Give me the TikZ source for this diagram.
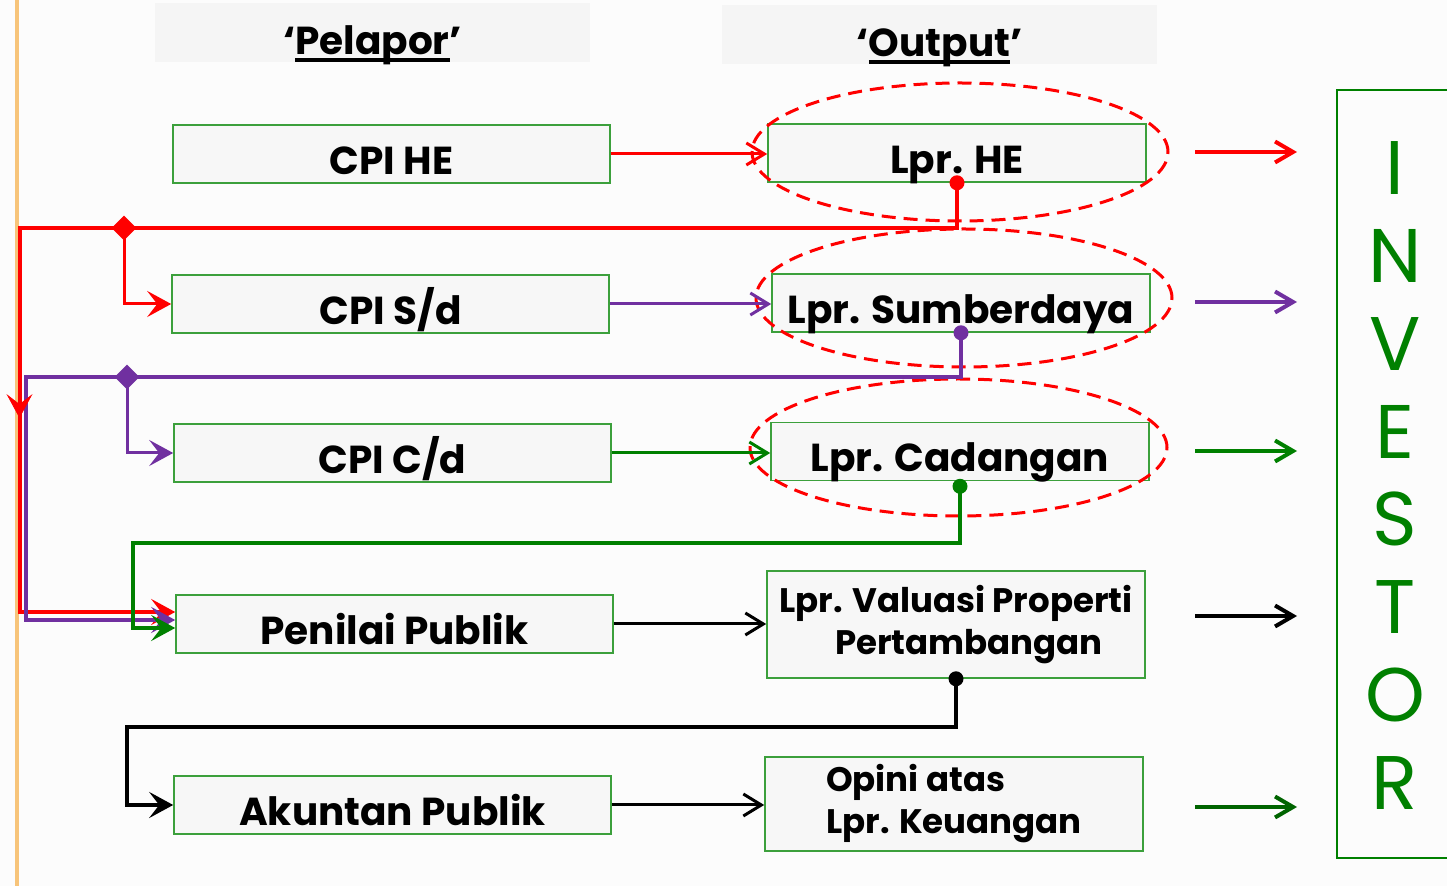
\documentclass[tikz,border=0pt]{standalone}
\usepackage{fontspec}
\setmainfont{Poppins}
\usetikzlibrary{positioning, arrows.meta, shapes.geometric, decorations.markings}

\definecolor{lineRed}{RGB}{255,0,0}
\definecolor{linePurple}{RGB}{112,48,160}
\definecolor{lineGreen}{RGB}{0,128,0}
\definecolor{darkGreen}{RGB}{0,100,0}
\definecolor{boxEdge}{RGB}{60,160,60}
\definecolor{boxFill}{RGB}{247,247,247}
\definecolor{pageBg}{RGB}{252,252,252}
\definecolor{headFill}{RGB}{245,245,245}
\definecolor{rulerOrange}{RGB}{247,196,122}

% garis bawah tebal untuk judul kolom
\newcommand{\garisbawah}[1]{\setbox0\hbox{#1}\rlap{\rule[-3.5pt]{\wd0}{1.8pt}}\box0}

\begin{document}
\begin{tikzpicture}[
        x=0.5pt, y=-0.5pt,
        % Kotak pelapor dan laporan
        pelapor/.style={rectangle, draw=boxEdge, line width=0.8pt, fill=boxFill, minimum width=218.5pt, minimum height=29pt, inner sep=0pt, text height=20.5pt, text depth=0pt, font=\fontsize{19.5}{21}\selectfont\bfseries},
        laporan/.style={pelapor, minimum width=189pt},
        laporan2/.style={laporan, text height=, text depth=, font=\fontsize{17}{21}\selectfont\bfseries},
        header/.style={rectangle, fill=headFill, minimum width=217.5pt, minimum height=29.5pt, inner sep=0pt, text height=22.5pt, text depth=0pt, font=\fontsize{19.5}{21}\selectfont\bfseries},
        huruf/.style={text=lineGreen, font=\fontsize{38}{40}\selectfont, inner sep=0pt},
        % Titik dan cabang
        titik/.style={circle, fill, inner sep=0pt, minimum size=7.5pt},
        cabang/.style={diamond, fill, inner sep=0pt, minimum width=12.5pt, minimum height=12.5pt},
        oval/.style={draw=lineRed, line width=1.5pt, dash pattern=on 7pt off 4pt},
        % Panah
        flow/.style={line width=1.5pt, -{Straight Barb[length=9pt, width=11pt]}},
        balik/.style={line width=2pt, -{Stealth[length=12pt, width=13pt, inset=5pt]}},
        keluar/.style={line width=2pt, -{Straight Barb[length=9pt, width=10.5pt]}}
    ]

    \fill[pageBg] (0,0) rectangle (1447,886);
    \useasboundingbox (0,0) rectangle (1447,886);
    \draw[rulerOrange, line width=1.8pt] (17,0) -- (17,886);

    % --- JUDUL KOLOM ---
    \node[header] (hpel) at (372.5,32.5) {‘\garisbawah{Pelapor}’};
    \node[header] (hout) at (939.5,34.5) {‘\garisbawah{Output}’};

    % --- PELAPOR ---
    \node[pelapor] (cpihe) at (391.5,154) {CPI HE};
    \node[pelapor] (cpisd) at (390.5,304) {CPI S/d};
    \node[pelapor] (cpicd) at (392.5,453) {CPI C/d};
    \node[pelapor] (penilai) at (394.5,624) {Penilai Publik};
    \node[pelapor] (akuntan) at (392.5,805) {Akuntan Publik};

    % --- OUTPUT ---
    \node[laporan] (lprhe) at (957,153) {Lpr. HE};
    \node[laporan] (lprsd) at (961,303) {Lpr. Sumberdaya};
    \node[laporan] (lprcd) at (960,451.5) {Lpr. Cadangan};
    \node[laporan2, minimum height=53.5pt, align=center] (lprvp) at (956,624.5) {Lpr. Valuasi Properti\\\hspace*{13pt}Pertambangan};
    \node[laporan2, minimum height=47pt, align=left] (lprku) at (954,804) {Opini atas\\Lpr. Keuangan};

    \draw[oval] (960,152) ellipse [x radius=104pt, y radius=34.5pt];
    \draw[oval] (964,298) ellipse [x radius=104pt, y radius=34.5pt];
    \draw[oval] (958.5,447.5) ellipse [x radius=104.25pt, y radius=34.25pt];

    % --- PANAH UTAMA ---
    \draw[flow, lineRed] (cpihe.east) -- (cpihe.east -| lprhe.west);
    \draw[flow, linePurple] (cpisd.east) -- (cpisd.east -| lprsd.west);
    \draw[flow, lineGreen] (cpicd.east) -- (cpicd.east -| lprcd.west);
    \draw[flow, black] (penilai.east) -- (penilai.east -| lprvp.west);
    \draw[flow, black] (akuntan.east) -- (akuntan.east -| lprku.west);

    % --- UMPAN BALIK ---
    \node[titik, lineRed] (dhe) at (lprhe.south) {};
    \node[titik, linePurple] (dsd) at (lprsd.south) {};
    \node[titik, lineGreen] (dcd) at ([yshift=-2.5pt]lprcd.south) {};
    \node[titik, black] (dvp) at (lprvp.south) {};

    \coordinate (rkiri) at (19.5,228);
    \coordinate (ukiri) at (26,377);
    \coordinate (hkiri) at (133,543);
    \coordinate (kkiri) at (127,727);
    \node[cabang, lineRed] (rdia) at (124,228) {};
    \node[cabang, linePurple] (udia) at (127,377) {};

    \draw[balik, lineRed] (dhe.center) |- (rkiri) |- ([yshift=6pt]penilai.west);
    \draw[balik, lineRed, line width=1.5pt] (rdia.center) |- (cpisd.west);
    \draw[balik, linePurple] (dsd.center) |- (ukiri) |- ([yshift=2pt]penilai.west);
    \draw[balik, linePurple, line width=1.5pt] (udia.center) |- (cpicd.west);
    \draw[balik, lineGreen] (dcd.center) |- (hkiri) |- ([yshift=-2pt]penilai.west);
    \draw[balik, black] (dvp.center) |- (kkiri) |- (akuntan.west);
    \path[decoration={markings, mark=at position 0.48 with {\arrow[lineRed]{Stealth[length=12pt, width=13pt, inset=5pt]}}}, decorate]
        (rkiri) -- (rkiri |- penilai.west);

    % --- INVESTOR ---
    \node[rectangle, draw=lineGreen, line width=1pt, anchor=north west, minimum width=70pt, minimum height=384pt] (investor) at (1336,89) {};
    \foreach \h [count=\i from 0] in {I,N,V,E,S,T,O,R} {
        \node[huruf] (inv\i) at (1395, 168+87.86*\i) {\h};
    }
    \foreach \yy/\cc [count=\i] in {152/lineRed, 302/linePurple, 451/lineGreen, 616/black, 807/darkGreen} {
        \coordinate (k\i) at (1195,\yy);
        \draw[keluar, \cc, shorten >=19.5pt] (k\i) -- (k\i -| investor.west);
    }

\end{tikzpicture}
\end{document}
